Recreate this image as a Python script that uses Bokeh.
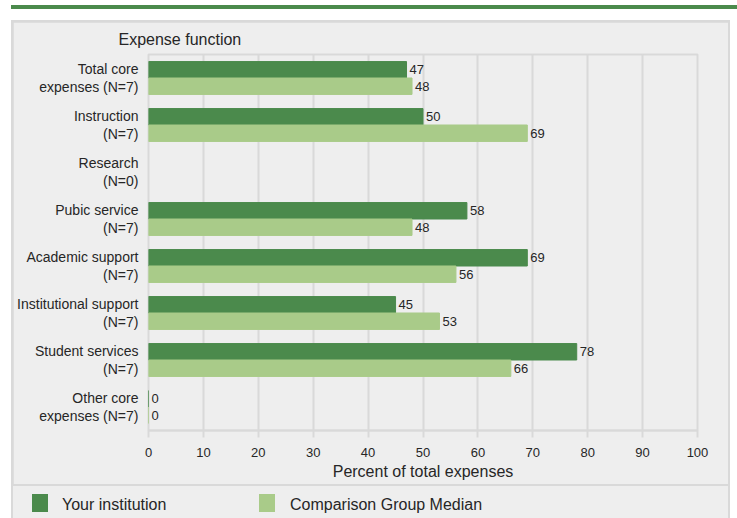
from bokeh.plotting import figure
from bokeh.models import (ColumnDataSource, LabelSet, Div, FactorRange, Range1d,
                          FixedTicker)
from bokeh.core.properties import value
from bokeh.transform import dodge
from bokeh.layouts import column
from bokeh.embed import file_html
from bokeh.resources import INLINE

categories = ["Total core\nexpenses (N=7)", "Instruction\n(N=7)", "Research\n(N=0)",
              "Pubic service\n(N=7)", "Academic support\n(N=7)",
              "Institutional support\n(N=7)", "Student services\n(N=7)",
              "Other core\nexpenses (N=7)"]
your_institution = [47, 50, None, 58, 69, 45, 78, 0]
comparison_median = [48, 69, None, 48, 56, 53, 66, 0]
x_ticks = [0, 10, 20, 30, 40, 50, 60, 70, 80, 90, 100]
series_names = ["Your institution", "Comparison Group Median"]

DARK = "#4b8a4c"
LIGHT = "#a9cb89"
TXT = "#262626"
GRID = "#d9d9d9"
PANEL = "#eeeeee"
FONT = "Liberation Sans"

keep = [i for i, v in enumerate(your_institution) if v is not None]
src = ColumnDataSource(dict(
    cat=[categories[i] for i in keep],
    yours=[your_institution[i] for i in keep],
    comp=[comparison_median[i] for i in keep],
    yours_txt=[str(your_institution[i]) for i in keep],
    comp_txt=[str(comparison_median[i]) for i in keep],
))

p = figure(width=715, height=462, output_backend="svg", toolbar_location=None,
           y_range=FactorRange(factors=categories[::-1]),
           x_range=Range1d(0, 100),
           min_border_left=135, min_border_right=31, min_border_top=32,
           min_border_bottom=54,
           background_fill_color=PANEL, border_fill_color=PANEL,
           title="Expense function")
p.margin = (2, 2, 0, 2)

p.hbar(y=dodge("cat", 0.175, range=p.y_range), right="yours", height=0.35,
       source=src, fill_color=DARK, line_color=DARK, line_width=1)
p.hbar(y=dodge("cat", -0.175, range=p.y_range), right="comp", height=0.35,
       source=src, fill_color=LIGHT, line_color=LIGHT, line_width=1)

for col, txt, off in (("yours", "yours_txt", 0.175), ("comp", "comp_txt", -0.175)):
    p.add_layout(LabelSet(x=col, y=dodge("cat", off, range=p.y_range), text=txt,
                          source=src, x_offset=3, text_baseline="middle",
                          text_font=value(FONT), text_font_size="13px",
                          text_color=TXT))

p.title.text_font = FONT
p.title.text_font_size = "16px"
p.title.text_font_style = "normal"
p.title.text_color = TXT
p.title.align = "left"
p.title.offset = -30
p.title.standoff = 13

p.xaxis.ticker = FixedTicker(ticks=x_ticks)
p.xaxis.axis_label = "Percent of total expenses"
p.xaxis.axis_label_text_font = FONT
p.xaxis.axis_label_text_font_size = "16px"
p.xaxis.axis_label_text_font_style = "normal"
p.xaxis.axis_label_text_color = TXT
p.xaxis.axis_label_standoff = 3
p.xaxis.major_label_text_font = FONT
p.xaxis.major_label_text_font_size = "13px"
p.xaxis.major_label_text_color = TXT
p.xaxis.major_label_standoff = 10
p.xaxis.axis_line_color = GRID
p.xaxis.axis_line_width = 2
p.xaxis.major_tick_line_color = GRID
p.xaxis.major_tick_line_width = 2
p.xaxis.major_tick_out = 7
p.xaxis.major_tick_in = 0
p.xaxis.minor_tick_line_color = None

p.yaxis.axis_line_color = None
p.yaxis.major_tick_line_color = None
p.yaxis.minor_tick_line_color = None
p.yaxis.major_label_text_font = FONT
p.yaxis.major_label_text_font_size = "14px"
p.yaxis.major_label_text_color = TXT
p.yaxis.major_label_text_line_height = 1.12
p.yaxis.major_label_standoff = 4

p.xgrid.grid_line_color = GRID
p.xgrid.grid_line_width = 2
p.ygrid.grid_line_color = None
p.outline_line_color = GRID
p.outline_line_width = 2

# legend strip below the chart
def swatch(left, color):
    return (f'<span style="position:absolute;left:{left}px;top:8px;width:16px;'
            f'height:18px;background:{color};"></span>')

def label(left, text):
    return (f'<span style="position:absolute;left:{left}px;top:10px;'
            f'line-height:18px;white-space:nowrap;">{text}</span>')

legend_html = (
    f'<div style="position:relative;width:715px;height:32px;'
    f'font-family:\'{FONT}\';font-size:16px;color:{TXT};">'
    + swatch(19, DARK) + label(49, series_names[0])
    + swatch(246, LIGHT) + label(277, series_names[1])
    + '</div>'
)
lf = Div(text=legend_html, width=715, height=32, margin=(0, 2, 0, 2),
         styles={"background-color": PANEL})

inner = column(p, lf, spacing=2, styles={"background-color": GRID})
inner.margin = (0, 0, 0, 11)

bar = Div(text="", width=726, height=4, margin=(5, 0, 11, 11),
          styles={"background-color": "#4b8a4c"})

layout = column(bar, inner)
open("out.html", "w").write(file_html(layout, INLINE))
